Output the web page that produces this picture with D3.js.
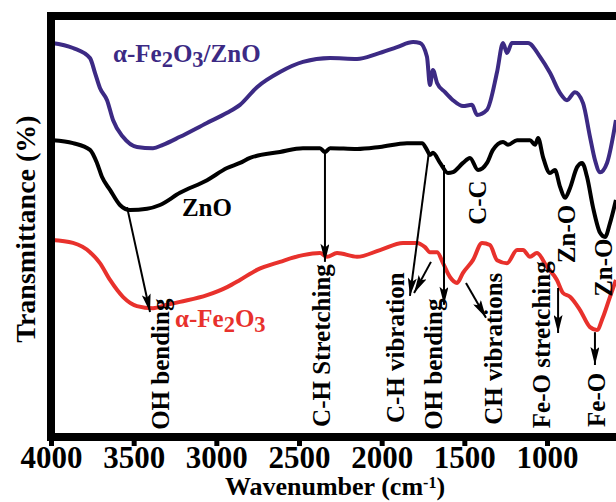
<!DOCTYPE html>
<html lang="en">
<head>
<meta charset="utf-8" />
<title>FTIR spectra</title>
<script src="https://cdn.jsdelivr.net/npm/d3@7"></script>
<style>
  body { margin: 0; background: #fff; }
  svg { display: block; }
</style>
</head>
<body>
<svg id="chart" width="616" height="502"></svg>
<script>
// wavenumber (cm-1) and transmittance (arbitrary %)
const fznWn = [3994,3867,3764,3734,3704,3661,3625,3565,3480,3383,3323,3220,3057,2935,2857,2754,2615,2476,2312,2149,2028,1907,1810,1768,1726,1708,1690,1665,1617,1569,1508,1454,1423,1363,1302,1266,1242,1212,1115,1042,982,921,879,831,782,740,710,679,637,583];
const fznT  = [93.6,92.4,90.0,86.5,82.9,80.0,75.3,71.3,68.9,68.6,69.4,71.3,74.6,77.0,78.9,83.1,86.7,89.1,90.0,89.8,91.0,92.6,93.8,93.6,90.3,83.6,87.2,84.1,81.9,80.0,78.6,78.9,76.5,77.7,86.7,93.6,91.2,93.6,93.6,90.3,86.5,81.7,80.0,81.9,79.3,71.3,65.8,62.9,65.1,75.3];

const znoWn = [3988,3867,3764,3722,3692,3643,3583,3522,3419,3341,3220,3056,2935,2857,2796,2615,2476,2373,2343,2312,2149,2010,1847,1756,1726,1708,1690,1647,1599,1569,1508,1466,1417,1363,1327,1266,1236,1181,1103,1072,1054,1024,982,952,921,891,861,818,788,758,722,679,649,619,583];
const znoT  = [70.5,69.8,68.2,65.1,61.8,58.7,55.1,53.9,54.2,55.1,58.0,61.0,63.9,65.1,66.3,67.7,68.6,68.6,67.7,68.6,68.4,68.9,69.8,69.8,68.2,67.0,67.5,65.1,62.7,62.9,65.1,66.3,63.4,65.1,68.2,70.1,69.4,70.5,70.5,69.4,71.0,66.5,62.7,63.4,59.4,56.8,59.1,64.1,65.1,61.8,54.6,48.5,47.5,50.8,56.3];

const feWn = [3994,3867,3764,3704,3643,3565,3480,3383,3298,3220,3056,2935,2857,2754,2615,2476,2373,2331,2270,2149,2010,1871,1786,1738,1708,1665,1629,1587,1544,1508,1448,1393,1345,1302,1242,1181,1145,1103,1061,1000,940,903,861,801,740,698,661,619,583];
const feT  = [46.8,46.1,43.9,41.3,37.3,33.3,31.1,30.6,31.4,32.1,33.7,35.6,37.3,39.7,41.6,43.2,43.7,42.8,43.7,42.8,44.4,46.1,46.1,45.1,43.9,43.9,41.3,38.0,36.6,39.0,42.0,46.1,45.6,42.0,41.3,44.4,44.4,42.8,43.7,40.4,37.3,34.2,33.3,30.2,26.1,25.4,28.5,33.3,37.3];

const xTicks = [4000, 3500, 3000, 2500, 2000, 1500, 1000];

// band assignments: label anchor (wn, T at label foot) and arrows [wn0, T0, wn1, T1]
const bandNames  = ["OH bending", "C-H Stretching", "C-H vibration", "OH bending", "C-C", "CH vibrations", "Fe-O stretching", "Zn-O", "Zn-O", "Fe-O"];
const bandWn     = [3335, 2361, 1913, 1684, 1417, 1321, 1030, 879, 655, 698];
const bandT      = [1.7, 2.4, 3.3, 1.7, 50.4, 2.9, 2.1, 41.3, 33.3, 2.4];
const bandArrows = [
  [[3540, 54.6, 3401, 29.7]],
  [[2343, 67.7, 2343, 41.6]],
  [[1714, 67.7, 1829, 33.5], [1702, 41.6, 1804, 34.2]],
  [[1623, 64.6, 1623, 31.4]],
  [],
  [[1490, 36.6, 1369, 28.3]],
  [[933, 35.4, 933, 24.7]],
  [],
  [],
  [[710, 24.9, 710, 17.1]]
];

const svg = d3.select("#chart");
const serif = "'Liberation Serif', 'Times New Roman', serif";

const plotLeft = 51, plotTop = 16, plotBottom = 437;
const x = d3.scaleLinear().domain([4000, 1000]).range([plotLeft, 547]);
const y = d3.scaleLinear().domain([0, 100]).range([plotBottom, plotTop]);

const series = [
  { wn: fznWn, t: fznT, color: "#3c2a84" },
  { wn: znoWn, t: znoT, color: "#000000" },
  { wn: feWn,  t: feT,  color: "#e8312c" }
];

const line = d3.line()
  .x(d => x(d[0]))
  .y(d => y(d[1]))
  .curve(d3.curveMonotoneX);

svg.append("defs").append("marker")
  .attr("id", "head")
  .attr("viewBox", "0 0 20 10")
  .attr("refX", 20)
  .attr("refY", 5)
  .attr("markerWidth", 20)
  .attr("markerHeight", 9)
  .attr("markerUnits", "userSpaceOnUse")
  .attr("orient", "auto")
  .append("path")
  .attr("d", "M0,0 L20,5 L0,10 L4,5 Z")
  .attr("fill", "#000");

// spectra
svg.selectAll(".spec")
  .data(series)
  .enter()
  .append("path")
  .attr("class", "spec")
  .attr("d", s => line(s.wn.map((w, i) => [w, s.t[i]])))
  .attr("fill", "none")
  .attr("stroke", s => s.color)
  .attr("stroke-width", 4)
  .attr("stroke-linejoin", "round");

// arrows
const arrows = [];
bandArrows.forEach(list => list.forEach(a => arrows.push(a)));
svg.selectAll(".arrow")
  .data(arrows)
  .enter()
  .append("line")
  .attr("class", "arrow")
  .attr("x1", a => x(a[0]))
  .attr("y1", a => y(a[1]))
  .attr("x2", a => x(a[2]))
  .attr("y2", a => y(a[3]))
  .attr("stroke", "#000")
  .attr("stroke-width", 2)
  .attr("marker-end", "url(#head)");

// band labels, reading bottom to top
svg.selectAll(".band")
  .data(bandNames)
  .enter()
  .append("text")
  .attr("class", "band")
  .attr("transform", (d, i) => `translate(${x(bandWn[i])},${y(bandT[i])}) rotate(-90)`)
  .attr("dy", "0.33em")
  .attr("font-family", serif)
  .attr("font-weight", "bold")
  .attr("font-size", "25px")
  .attr("fill", "#000")
  .text(d => d);

// series names, digits set low like subscripts
function chem(g, parts, size) {
  let shift = 0;
  parts.forEach(p => {
    const target = p.sub ? 5 : 0;
    const ts = g.append("tspan").attr("dy", target - shift).text(p.s);
    if (p.sub) ts.attr("font-size", size * 0.9 + "px");
    shift = target;
  });
}
const names = [
  { parts: [{s: "α-Fe"}, {s: "2", sub: 1}, {s: "O"}, {s: "3", sub: 1}, {s: "/ZnO"}], wn: 3625, t: 89.1, color: "#3c2a84" },
  { parts: [{s: "ZnO"}], wn: 3208, t: 52.5, color: "#000000" },
  { parts: [{s: "α-Fe"}, {s: "2", sub: 1}, {s: "O"}, {s: "3", sub: 1}], wn: 3250, t: 26.1, color: "#e8312c" }
];
names.forEach(n => {
  const t = svg.append("text")
    .attr("x", x(n.wn))
    .attr("y", y(n.t))
    .attr("font-family", serif)
    .attr("font-weight", "bold")
    .attr("font-size", "25px")
    .attr("fill", n.color);
  chem(t, n.parts, 25);
});

// frame
svg.append("path")
  .attr("d", `M630,${plotTop} H${plotLeft} V${plotBottom} H630`)
  .attr("fill", "none")
  .attr("stroke", "#000")
  .attr("stroke-width", 8);

// x axis
const xAxis = svg.append("g")
  .attr("transform", `translate(0,${plotBottom})`)
  .call(d3.axisBottom(x).tickValues(xTicks).tickSize(9).tickFormat(d3.format("d")));
xAxis.select(".domain").remove();
xAxis.selectAll(".tick line").attr("stroke-width", 5);
xAxis.selectAll(".tick text")
  .attr("y", 31)
  .attr("dy", null)
  .attr("font-family", serif)
  .attr("font-weight", "bold")
  .attr("font-size", "31px")
  .attr("fill", "#000");

// axis titles
const xt = svg.append("text")
  .attr("x", 335)
  .attr("y", 495)
  .attr("text-anchor", "middle")
  .attr("font-family", serif)
  .attr("font-weight", "bold")
  .attr("font-size", "26px");
xt.append("tspan").text("Wavenumber (cm");
xt.append("tspan").attr("dy", -7).attr("font-size", "16px").text("-1");
xt.append("tspan").attr("dy", 7).text(")");

svg.append("text")
  .attr("transform", "translate(35,229) rotate(-90)")
  .attr("text-anchor", "middle")
  .attr("font-family", serif)
  .attr("font-weight", "bold")
  .attr("font-size", "28px")
  .text("Transmittance (%)");
</script>
</body>
</html>
